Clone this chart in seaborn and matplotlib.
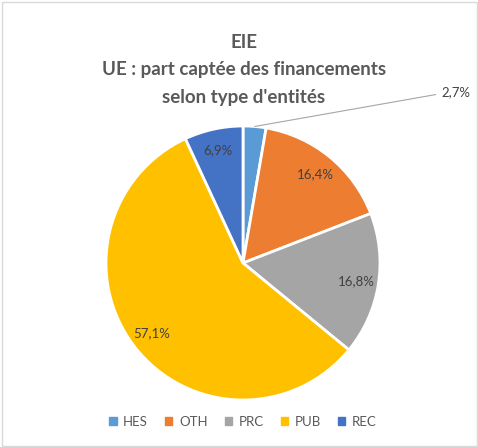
import matplotlib
matplotlib.use("Agg")
import numpy as np
import matplotlib.pyplot as plt
import seaborn as sns
from matplotlib.patches import Rectangle

categories = ["HES", "OTH", "PRC", "PUB", "REC"]
shares = [2.7, 16.4, 16.8, 57.1, 6.9]
colors = ["#5B9BD5", "#ED7D31", "#A5A5A5", "#FFC000", "#4472C4"]
title_lines = ["EIE", "UE : part captée des financements", "selon type d'entités"]

sns.set_style("white")
plt.rcParams["font.family"] = ["Lato", "DejaVu Sans"]

W, H = 478, 447
fig = plt.figure(figsize=(W / 100, H / 100), dpi=100)
fig.patch.set_facecolor("white")

# chart frame
fig.add_artist(Rectangle((1.5 / W, 1.5 / H), (W - 3) / W, (H - 3) / H,
                         transform=fig.transFigure, fill=False,
                         edgecolor="#D9D9D9", linewidth=1))

cx, cy, r = 243, 263, 137
ax = fig.add_axes([(cx - r) / W, (H - cy - r) / H, 2 * r / W, 2 * r / H])

wedges, _ = ax.pie(
    shares, colors=colors, startangle=90, counterclock=False,
    wedgeprops=dict(edgecolor="white", linewidth=2),
)
ax.set_aspect("auto")
ax.set_xlim(-1, 1)
ax.set_ylim(-1, 1)

def fmt(v):
    return f"{v:.1f}".replace(".", ",") + "%"

# value labels inside the larger slices
for w, v in zip(wedges[1:], shares[1:]):
    mid = np.deg2rad((w.theta1 + w.theta2) / 2)
    ax.text(0.84 * np.cos(mid), 0.84 * np.sin(mid), fmt(v),
            ha="center", va="center", fontsize=9.5, color="#404040")

# small slice: outside label with leader line
w0 = wedges[0]
mid0 = np.deg2rad((w0.theta1 + w0.theta2) / 2)
ax.annotate(fmt(shares[0]), xy=(np.cos(mid0), np.sin(mid0)), xytext=(1.45, 1.25),
            fontsize=9.5, color="#404040", ha="left", va="center",
            arrowprops=dict(arrowstyle="-", color="#A6A6A6", lw=0.8,
                            shrinkA=2, shrinkB=0,
                            connectionstyle="angle,angleA=0,angleB=10,rad=0"),
            annotation_clip=False)

ys = [42, 70, 97]
for line, y in zip(title_lines, ys):
    fig.text(244 / W, 1 - y / H, line, ha="center", va="center",
             fontsize=13.5, fontweight="bold", color="#595959")

handles = [plt.Rectangle((0, 0), 1, 1, color=c) for c in colors]
fig.legend(handles, categories, loc="center", bbox_to_anchor=(243 / W, 1 - 422 / H),
           ncol=5, frameon=False, fontsize=9.5, labelcolor="#595959",
           handlelength=0.55, handleheight=0.55, handletextpad=0.5,
           columnspacing=1.3)

fig.savefig("out.png", dpi=100)
